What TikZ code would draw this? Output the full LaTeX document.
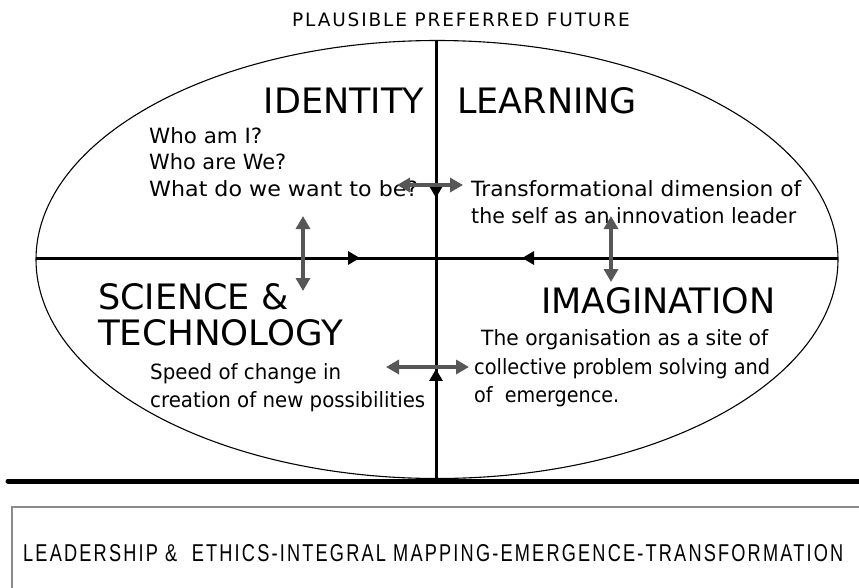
\documentclass[tikz,border=0pt]{standalone}
\usepackage{fontspec}
\usetikzlibrary{arrows.meta,decorations.markings}
\newfontfamily\mapfont{DejaVu Sans}
\newfontfamily\titlefont[LetterSpace=10]{DejaVu Sans}
\newfontfamily\bandfont[LetterSpace=12]{Liberation Sans}
\definecolor{linkgray}{HTML}{575757}
\definecolor{framegray}{HTML}{8C8C8C}
% set a line of text to a given width, keeping its height
\newcommand\fitw[2]{\resizebox{#1}{\height}{#2}}
\tikzset{
  txt/.style={inner sep=0pt, anchor=base west, font=\mapfont\fontsize{21pt}{25pt}\selectfont},
  head/.style={inner sep=0pt, anchor=base west, font=\mapfont\fontsize{35pt}{40pt}\selectfont},
  axisline/.style={line width=3pt, black},
  linktip/.tip={Triangle[length=13pt,width=14pt]},
  axtip/.tip={Triangle[length=12pt,width=13pt]},
  twoway/.style={line width=4pt, linkgray, linktip-linktip}
}
\begin{document}
\begin{tikzpicture}[x=1pt,y=-1pt]
\useasboundingbox (0,0) rectangle (859,587);
\clip (0,0) rectangle (859,587);

% frame of the lower band
\draw[framegray, line width=1.3pt] (12,600) -- (12,507);
\draw[framegray, line width=2pt] (11.35,507) -- (870,507);
\node[inner sep=0pt, anchor=base west] (band) at (23,561)
  {\resizebox{820pt}{17pt}{\bandfont LEADERSHIP \&\ \ ETHICS-INTEGRAL MAPPING-EMERGENCE-TRANSFORMATION}};

% ground line
\coordinate (gl) at (8,481);
\coordinate (gr) at (870,481);
\draw[line width=5pt, line cap=round] (gl) -- (gr);

% outer ellipse
\draw[line width=1.1pt] (437,259.5) ellipse [x radius=401pt, y radius=219pt];

% axes
\coordinate (W) at (36,258);
\coordinate (E) at (838,258);
\coordinate (N) at (436,40);
\coordinate (S) at (436,481);
\draw[axisline, postaction=decorate, decoration={markings,
    mark=at position 0.404 with {\arrow{axtip}},
    mark=at position 0.606 with {\arrowreversed{axtip}}}] (W) -- (E);
\draw[axisline, postaction=decorate, decoration={markings,
    mark=at position 0.358 with {\arrow{axtip}},
    mark=at position 0.746 with {\arrowreversed{axtip}}}] (N) -- (S);

% title
\node[inner sep=0pt, anchor=base, font=\titlefont\fontsize{18.5pt}{22pt}\selectfont] (title) at (461,26.5) {PLAUSIBLE PREFERRED FUTURE};

% quadrant headings
\node[head, anchor=base east] (identity) at (424,113) {IDENTITY};
\node[head] (learning) at (457,113) {LEARNING};
\node[head] (science) at (98,309) {SCIENCE \&};
\node[head] (technology) at (98,345) {\fitw{245pt}{TECHNOLOGY}};
\node[head] (imagination) at (541,313) {IMAGINATION};

% quadrant texts
\node[txt] (q1a) at (149,143) {\fitw{113pt}{Who am I?}};
\node[txt] (q1b) at (149,169.5) {\fitw{137pt}{Who are We?}};
\node[txt] (q1c) at (149,196.5) {\fitw{269pt}{What do we want to be?}};
\node[txt] (q2a) at (471,196.5) {\fitw{330pt}{Transformational dimension of}};
\node[txt] (q2b) at (471,223.5) {\fitw{325pt}{the self as an innovation leader}};
\node[txt] (q4a) at (481,345.5) {\fitw{287pt}{The organisation as a site of}};
\node[txt] (q4b) at (474,374.5) {\fitw{296pt}{collective problem solving and}};
\node[txt] (q4c) at (474,402.5) {\fitw{145pt}{of\ \ emergence.}};
\node[txt] (q3a) at (150,379.5) {\fitw{191pt}{Speed of change in}};
\node[txt] (q3b) at (150,407.5) {\fitw{275pt}{creation of new possibilities}};

% two-way links
\coordinate (h1l) at (397,185);
\coordinate (h1r) at (463,185);
\coordinate (v1t) at (303,216);
\coordinate (v1b) at (303,291);
\coordinate (v2t) at (611,216);
\coordinate (v2b) at (611,282);
\coordinate (h2l) at (386,367);
\coordinate (h2r) at (469,367);
\draw[twoway] (h1l) -- (h1r);
\draw[twoway] (v1t) -- (v1b);
\draw[twoway] (v2t) -- (v2b);
\draw[twoway] (h2l) -- (h2r);
\end{tikzpicture}
\end{document}
